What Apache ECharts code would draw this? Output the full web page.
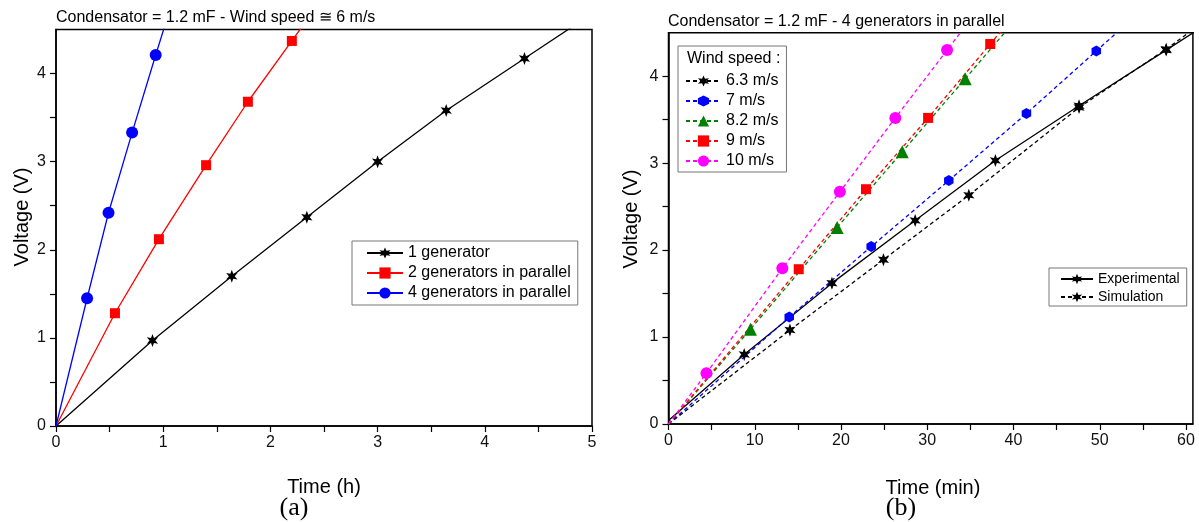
<!DOCTYPE html>
<html>
<head>
<meta charset="utf-8">
<script src="https://cdn.jsdelivr.net/npm/echarts@6/dist/echarts.min.js"></script>
<style>
  html, body { margin: 0; padding: 0; background: #fff; }
  #chart { width: 1199px; height: 522px; }
</style>
</head>
<body>
<div id="chart"></div>
<script>
// (a) charging with 1, 2, 4 generators - time in hours
const gen1Time = [0, 0.90, 1.64, 2.34, 3.00, 3.64, 4.37, 5.0];
const gen1Volt = [0, 0.97, 1.70, 2.37, 3.00, 3.58, 4.17, 4.68];
const gen2Time = [0, 0.55, 0.96, 1.40, 1.79, 2.20, 2.40];
const gen2Volt = [0, 1.28, 2.12, 2.96, 3.68, 4.37, 4.71];
const gen4Time = [0, 0.29, 0.49, 0.71, 0.93, 1.05];
const gen4Volt = [0, 1.45, 2.42, 3.33, 4.21, 4.68];

// (b) 4 generators, different wind speeds - time in minutes
const expTime = [0, 8.78, 18.95, 28.6, 37.9, 47.6, 57.7, 61];
const expVolt = [0.04, 0.80, 1.62, 2.34, 3.03, 3.66, 4.30, 4.51];
const w63Time = [0, 14.08, 24.92, 34.82, 47.6, 57.7, 61];
const w63Volt = [0, 1.08, 1.89, 2.63, 3.64, 4.31, 4.55];
const w7Time = [0, 14.0, 23.5, 32.5, 41.5, 49.6, 54];
const w7Volt = [0, 1.23, 2.04, 2.80, 3.57, 4.29, 4.68];
const w82Time = [0, 9.5, 19.55, 27.1, 34.4, 40];
const w82Volt = [0, 1.09, 2.26, 3.13, 3.97, 4.62];
const w9Time = [0, 15.1, 22.9, 30.1, 37.3, 39];
const w9Volt = [0, 1.78, 2.70, 3.52, 4.37, 4.57];
const w10Time = [0, 4.4, 13.2, 19.87, 26.3, 32.3, 35];
const w10Volt = [0, 0.585, 1.79, 2.67, 3.52, 4.30, 4.65];

// tick labels and tick marks
const hourLabels = [0, 1, 2, 3, 4, 5];
const hourTicks = [0, 0.5, 1, 1.5, 2, 2.5, 3, 3.5, 4, 4.5, 5];
const minLabels = [0, 10, 20, 30, 40, 50, 60];
const minTicks = [0, 5, 10, 15, 20, 25, 30, 35, 40, 45, 50, 55, 60];
const voltLabels = [0, 1, 2, 3, 4];
const voltTicks = [0, 0.5, 1, 1.5, 2, 2.5, 3, 3.5, 4];

const FONT = "'Liberation Sans', Arial, sans-serif";
const star = "path://M10 0L12.25 6.1L18.66 5L14.5 10L18.66 15L12.25 13.9L10 20L7.75 13.9L1.34 15L5.5 10L1.34 5L7.75 6.1Z";
const hexagon = "path://M10 0L18.66 5L18.66 15L10 20L1.34 15L1.34 5Z";

const pairs = (xs, ys) => xs.map((x, i) => [x, ys[i]]);

function lineSeries(name, xs, ys, color, symbol, size, dashed, idx) {
  return {
    name: name,
    type: "line",
    xAxisIndex: idx,
    yAxisIndex: idx,
    data: pairs(xs, ys),
    symbol: symbol,
    symbolKeepAspect: true,
    symbolSize: (v, p) => (p.dataIndex === 0 ? 0 : size),
    showAllSymbol: true,
    clip: true,
    lineStyle: { color: color, width: 1.3, type: dashed ? [4, 3] : "solid" },
    itemStyle: { color: color },
    emphasis: { disabled: true },
  };
}

function xAxisOf(idx, max, labels, ticks) {
  return {
    type: "value", gridIndex: idx, min: 0, max: max,
    axisLine: { show: true, onZero: false, lineStyle: { color: "#000", width: 1.5 } },
    axisTick: { show: true, length: 6, customValues: ticks, lineStyle: { color: "#000", width: 1.2 } },
    axisLabel: { customValues: labels, margin: 9, fontSize: 16, color: "#111", fontFamily: FONT },
    splitLine: { show: false },
  };
}

function yAxisOf(idx) {
  return {
    type: "value", gridIndex: idx, min: 0, max: 4.5,
    axisLine: { show: true, onZero: false, lineStyle: { color: "#000", width: 1.5 } },
    axisTick: { show: true, length: 6, customValues: voltTicks, lineStyle: { color: "#000", width: 1.2 } },
    axisLabel: { customValues: voltLabels, margin: 10, fontSize: 16, color: "#111", fontFamily: FONT },
    splitLine: { show: false },
  };
}

const legendBase = {
  orient: "vertical",
  selectedMode: false,
  borderColor: "#777",
  borderWidth: 1,
  itemGap: 4,
  textStyle: { color: "#000", fontFamily: FONT, fontSize: 16 },
};

const option = {
  animation: false,
  backgroundColor: "#fff",
  title: [
    { text: "Condensator = 1.2 mF - Wind speed \u2245 6 m/s", left: 56, top: 10, padding: 0,
      textStyle: { fontSize: 16, fontWeight: "normal", color: "#000", fontFamily: FONT } },
    { text: "Condensator = 1.2 mF - 4 generators in parallel", left: 668, top: 14, padding: 0,
      textStyle: { fontSize: 16, fontWeight: "normal", color: "#000", fontFamily: FONT } },
    { text: "Wind speed :", left: 687, top: 51, padding: 0, z: 10,
      textStyle: { fontSize: 16, fontWeight: "normal", color: "#000", fontFamily: FONT } },
  ],
  grid: [
    { left: 56, top: 29.5, width: 536, height: 396.5, show: true, borderColor: "#000", borderWidth: 1.5 },
    { left: 668.5, top: 32.7, width: 524.4, height: 391.3, show: true, borderColor: "#000", borderWidth: 1.5 },
  ],
  xAxis: [xAxisOf(0, 5, hourLabels, hourTicks), xAxisOf(1, 60.8, minLabels, minTicks)],
  yAxis: [yAxisOf(0), yAxisOf(1)],
  legend: [
    Object.assign({}, legendBase, {
      data: ["1 generator", "2 generators in parallel", "4 generators in parallel"],
      left: 352, top: 241, padding: [4, 7, 4, 14], itemWidth: 36, itemHeight: 14,
    }),
    Object.assign({}, legendBase, {
      data: ["6.3 m/s", "7 m/s", "8.2 m/s", "9 m/s", "10 m/s"],
      left: 678, top: 46, padding: [27, 8, 3, 7], itemWidth: 35, itemHeight: 14,
    }),
    Object.assign({}, legendBase, {
      data: ["Experimental", "Simulation"],
      left: 1049, top: 268, padding: [4, 7, 2, 11], itemWidth: 32, itemHeight: 13,
      textStyle: { color: "#000", fontFamily: FONT, fontSize: 14 },
    }),
  ],
  series: [
    lineSeries("1 generator", gen1Time, gen1Volt, "#000000", star, 13, false, 0),
    lineSeries("2 generators in parallel", gen2Time, gen2Volt, "#ff0000", "rect", 10, false, 0),
    lineSeries("4 generators in parallel", gen4Time, gen4Volt, "#0000ff", "circle", 12, false, 0),

    lineSeries("Experimental", expTime, expVolt, "#000000", star, 13, false, 1),
    lineSeries("6.3 m/s", w63Time, w63Volt, "#000000", star, 13, true, 1),
    lineSeries("7 m/s", w7Time, w7Volt, "#0000ff", hexagon, 11, true, 1),
    lineSeries("8.2 m/s", w82Time, w82Volt, "#008000", "triangle", 13, true, 1),
    lineSeries("9 m/s", w9Time, w9Volt, "#ff0000", "rect", 10, true, 1),
    lineSeries("10 m/s", w10Time, w10Volt, "#ff00ff", "circle", 12, true, 1),
    // legend-only entry for the dashed simulation style
    lineSeries("Simulation", [], [], "#000000", star, 13, true, 1),
  ],
  graphic: [
    { type: "text", x: 22, y: 217, rotation: Math.PI / 2,
      style: { text: "Voltage (V)", font: "20px " + FONT, fill: "#000", align: "center", verticalAlign: "middle" } },
    { type: "text", x: 631, y: 219, rotation: Math.PI / 2,
      style: { text: "Voltage (V)", font: "20px " + FONT, fill: "#000", align: "center", verticalAlign: "middle" } },
    { type: "text", x: 324, y: 487,
      style: { text: "Time (h)", font: "20px " + FONT, fill: "#000", align: "center", verticalAlign: "middle" } },
    { type: "text", x: 933, y: 488,
      style: { text: "Time (min)", font: "20px " + FONT, fill: "#000", align: "center", verticalAlign: "middle" } },
    { type: "text", x: 294, y: 508,
      style: { text: "(a)", font: "26px 'Liberation Serif', 'Times New Roman', serif", fill: "#000", align: "center", verticalAlign: "middle" } },
    { type: "text", x: 901, y: 508,
      style: { text: "(b)", font: "26px 'Liberation Serif', 'Times New Roman', serif", fill: "#000", align: "center", verticalAlign: "middle" } },
  ],
};

const chart = echarts.init(document.getElementById("chart"));
chart.setOption(option);
window.onresize = () => {
  chart.resize();
};
</script>
</body>
</html>
